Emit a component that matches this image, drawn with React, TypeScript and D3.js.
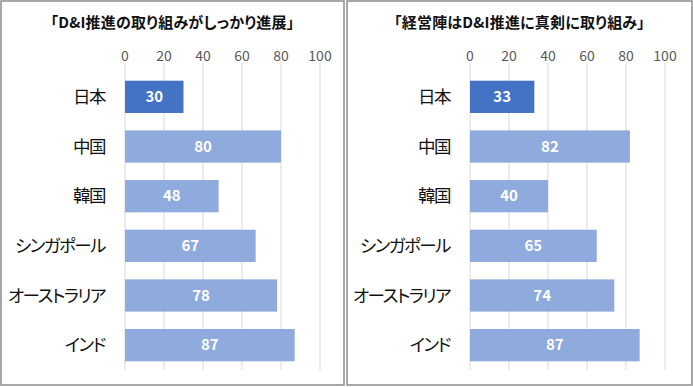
import React from "react";
import * as d3 from "d3";

const categories = ["日本", "中国", "韓国", "シンガポール", "オーストラリア", "インド"];
const progressValues = [30, 80, 48, 67, 78, 87];
const commitmentValues = [33, 82, 40, 65, 74, 87];
const ticks = [0, 20, 40, 60, 80, 100];
const titles = ["「D&I推進の取り組みがしっかり進展」", "「経営陣はD&I推進に真剣に取り組み」"];

const width = 693;
const height = 387;
const font = "'Noto Sans CJK JP', 'Noto Sans', sans-serif";
const palt = { fontFeatureSettings: '"palt"' };

function Panel({ left, w, title, values, x0 }) {
  const x = d3.scaleLinear().domain([0, 100]).range([x0, x0 + 195]);
  const y = d3
    .scaleBand()
    .domain(categories)
    .range([72, 370])
    .paddingInner(0.35)
    .paddingOuter(0.175);

  return (
    <g>
      <rect x={left} y={1} width={w} height={384} fill="white" stroke="#8c8c8c" strokeWidth={1.5} />
      <text
        x={left + w / 2}
        y={28}
        textAnchor="middle"
        fontFamily={font}
        fontWeight="bold"
        fontSize={15}
        letterSpacing={0.2}
        fill="#111"
        style={palt}
      >
        {title}
      </text>
      {/* grid + tick labels */}
      {ticks.map((t) => (
        <g key={t}>
          <line x1={x(t)} x2={x(t)} y1={63} y2={370} stroke="#d9d9d9" strokeWidth={1} />
          <text x={x(t)} y={62} textAnchor="middle" fontFamily={font} fontSize={14} fill="#595959" dy="-0.1em">
            {t}
          </text>
        </g>
      ))}
      {categories.map((c, i) => (
        <g key={c}>
          <rect
            x={x(0)}
            y={y(c)}
            width={x(values[i]) - x(0)}
            height={y.bandwidth()}
            fill={i === 0 ? "#4472C4" : "#8FAADC"}
          />
          <text
            x={(x(0) + x(values[i])) / 2}
            y={y(c) + y.bandwidth() / 2}
            dy="0.35em"
            textAnchor="middle"
            fontFamily={font}
            fontWeight="bold"
            fontSize={15}
            fill="white"
          >
            {values[i]}
          </text>
          <text
            x={x0 - 20}
            y={y(c) + y.bandwidth() / 2}
            dy="0.35em"
            textAnchor="end"
            fontFamily={font}
            fontSize={17.5}
            letterSpacing={-1.5}
            fill="#111"
            style={palt}
          >
            {c}
          </text>
        </g>
      ))}
    </g>
  );
}

export default function App() {
  return (
    <div style={{ position: "absolute", left: 0, top: 0 }}>
      <svg width={width} height={height} style={{ display: "block", background: "white" }}>
        <Panel left={1} w={343} title={titles[0]} values={progressValues} x0={125} />
        <Panel left={347} w={345} title={titles[1]} values={commitmentValues} x0={470} />
      </svg>
    </div>
  );
}
